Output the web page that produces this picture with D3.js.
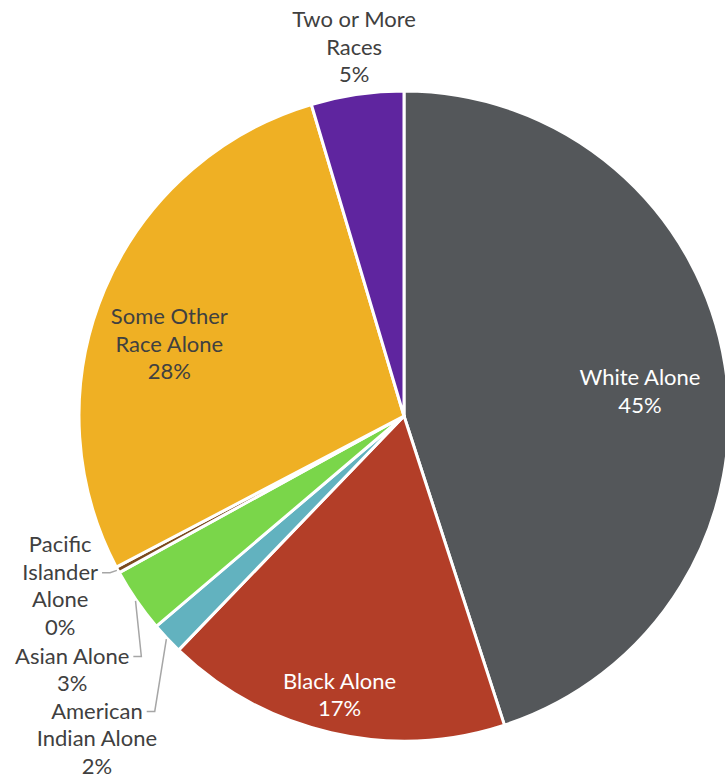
<!DOCTYPE html>
<html>
<head>
<meta charset="utf-8">
<script src="https://cdn.jsdelivr.net/npm/d3@7"></script>
<style>
  body { margin: 0; background: #fff; overflow: hidden; }
  svg { display: block; }
</style>
</head>
<body>
<svg id="chart"></svg>
<script>
// data (clockwise from 12 o'clock)
var categories = ["White Alone", "Black Alone", "American Indian Alone", "Asian Alone",
                  "Pacific Islander Alone", "Some Other Race Alone", "Two or More Races"];
var shares = [45.0, 17.2, 1.6, 3.2, 0.3, 28.1, 4.6];
var labelText = [["White Alone", "45%"], ["Black Alone", "17%"], ["American", "Indian Alone", "2%"],
                 ["Asian Alone", "3%"], ["Pacific", "Islander", "Alone", "0%"],
                 ["Some Other", "Race Alone", "28%"], ["Two or More", "Races", "5%"]];
var colors = ["#54575a", "#b33e28", "#62b2bf", "#7ad64a", "#7a4a1e", "#efb024", "#5f259f"];

// label layout: angle (deg from top) and radius factor of label block centre
var labelPolar = [[84, 0.73], [193, 0.88], [223.6, 1.37], [232.6, 1.285], [243.7, 1.18], [287, 0.755], [352.3, 1.145]];
var labelFill = ["#fff", "#fff", "#404040", "#404040", "#404040", "#404040", "#404040"];
var leaderLine = [null, null, 0, 0, 1, null, null]; // which text line the leader hooks to

var W = 725, H = 781;
var cx = 404, cy = 416, R = 325;
var lineH = 27.5;

var svg = d3.select('#chart').attr('width', W).attr('height', H);
var g = svg.append('g').attr('transform', 'translate(' + cx + ',' + cy + ')');

var pie = d3.pie().sort(null).value(function(d){ return d });
var arc = d3.arc().innerRadius(0).outerRadius(R);
var arcs = pie(shares);

g.selectAll('path.slice')
  .data(arcs)
  .enter()
  .append('path')
    .attr('class', 'slice')
    .attr('d', arc)
    .style('fill', function(d, i){ return colors[i] })
    .style('stroke', '#fff')
    .style('stroke-width', 3)
    .style('stroke-linejoin', 'round');

function polar(angDeg, rad){
  var a = angDeg * Math.PI / 180;
  return [rad * Math.sin(a), -rad * Math.cos(a)];
}

var labels = g.selectAll('g.lbl')
  .data(arcs)
  .enter()
  .append('g')
    .attr('class', 'lbl')
    .attr('transform', function(d, i){
      var p = polar(labelPolar[i][0], labelPolar[i][1] * R);
      return 'translate(' + p[0] + ',' + p[1] + ')';
    });

labels.each(function(d, i){
  var lines = labelText[i];
  var top = -(lines.length - 1) * lineH / 2;
  d3.select(this).selectAll('text')
    .data(lines)
    .enter()
    .append('text')
      .attr('x', 0)
      .attr('y', function(t, j){ return top + j * lineH })
      .attr('dy', '0.35em')
      .attr('text-anchor', 'middle')
      .style('font-family', 'Lato, "Open Sans", sans-serif')
      .style('font-size', '22px')
      .style('fill', labelFill[i])
      .text(function(t){ return t });
});

// leader lines for the thin slices
labels.each(function(d, i){
  if (leaderLine[i] === null) return;
  var t = d3.select(this).selectAll('text').nodes()[leaderLine[i]];
  var bb = t.getBBox();
  var p = polar(labelPolar[i][0], labelPolar[i][1] * R);
  var ex = p[0] + bb.x + bb.width + 4, ey = p[1] + bb.y + bb.height * 0.55;
  var mid = (d.startAngle + d.endAngle) / 2 * 180 / Math.PI;
  var s = polar(mid, R + 1);
  g.append('polyline')
    .attr('points', [[ex, ey], [ex + 8, ey], s].map(function(q){ return q.join(',') }).join(' '))
    .style('fill', 'none')
    .style('stroke', '#a6a6a6')
    .style('stroke-width', 1.5);
});
</script>
</body>
</html>
